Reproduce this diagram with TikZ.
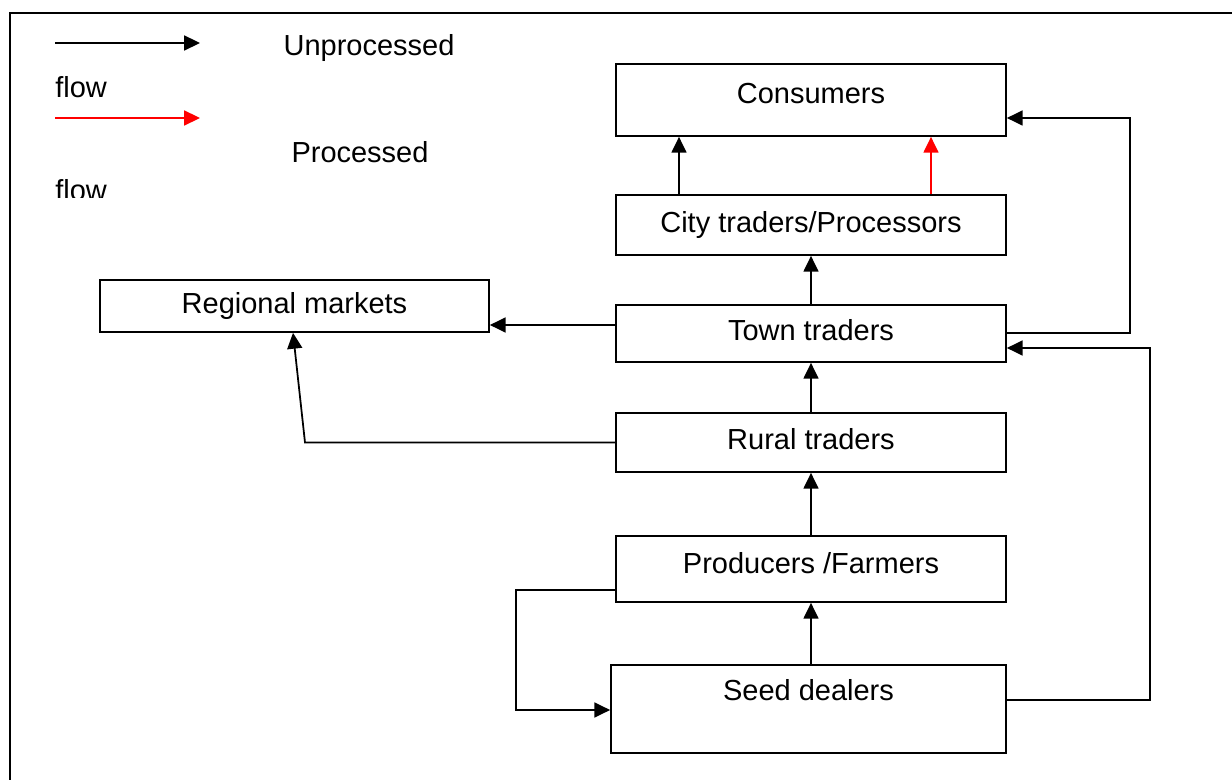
\documentclass[tikz,border=0pt]{standalone}
\usepackage{fontspec}
\setmainfont{Liberation Sans}
\usetikzlibrary{arrows.meta}
\begin{document}
\begin{tikzpicture}[x=0.02cm,y=-0.02cm,
  box/.style={draw,line width=1pt,rectangle,inner sep=0pt,minimum width=7.8cm,
    font=\fontsize{16.5}{20}\selectfont,text height=12pt,text depth=3.5pt},
  flow/.style={line width=1pt,-{Triangle[length=9pt,width=8.5pt]}},
  lbl/.style={inner sep=0pt,font=\fontsize{16.5}{20}\selectfont}]
\useasboundingbox (0,0) rectangle (1232,780);
\draw[line width=1.6pt] (10,780)--(10,13)--(1232,13);
% legend
\coordinate (ua) at (55,43);
\coordinate (ub) at (200,43);
\coordinate (pa) at (55,118);
\coordinate (pb) at (200,118);
\draw[flow] (ua)--(ub);
\draw[flow,red] (pa)--(pb);
\node[lbl] (unp) at (369,48){Unprocessed};
\node[lbl,anchor=west] (fl1) at (55,87){flow};
\node[lbl] (proc) at (360,152){Processed};
\begin{scope}
\clip (0,0) rectangle (600,198);
\node[lbl,anchor=west] (fl2) at (55,190){flow};
\end{scope}
% boxes
\node[box,minimum height=1.44cm,text depth=8pt] (cons) at (811,100){Consumers};
\node[box,minimum height=1.2cm] (city) at (811,225){City traders/Processors};
\node[box,minimum height=1.14cm] (town) at (811,333.5){Town traders};
\node[box,minimum width=7.78cm,minimum height=1.04cm] (reg) at (294.5,306){Regional markets};
\node[box,minimum height=1.18cm] (rural) at (811,442.5){Rural traders};
\node[box,minimum height=1.32cm,text depth=7pt] (prod) at (811,569){Producers /Farmers};
\node[box,minimum width=7.9cm,minimum height=1.76cm,text depth=21.5pt] (seed) at (808.5,709){Seed dealers};
% flows
\draw[flow] (city.north -| 679,0)--(cons.south -| 679,0);
\draw[flow,red] (city.north -| 931,0)--(cons.south -| 931,0);
\draw[flow] (town)--(city);
\draw[flow] (rural)--(town);
\draw[flow] (prod)--(rural);
\draw[flow] (seed.north -| 811,0)--(prod.south -| 811,0);
\draw[flow] (town.west |- 0,325)--(reg.east |- 0,325);
\draw[flow] (rural.west)--(305,442.5)--(reg.south -| 293,0);
\draw[flow] (prod.west |- 0,590)--(516,590)--(516,710)--(seed.west |- 0,710);
\draw[flow] (seed.east |- 0,700)--(1150,700)--(1150,348)--(town.east |- 0,348);
\draw[flow] (town.east |- 0,333)--(1130,333)--(1130,118)--(cons.east |- 0,118);
\end{tikzpicture}
\end{document}
